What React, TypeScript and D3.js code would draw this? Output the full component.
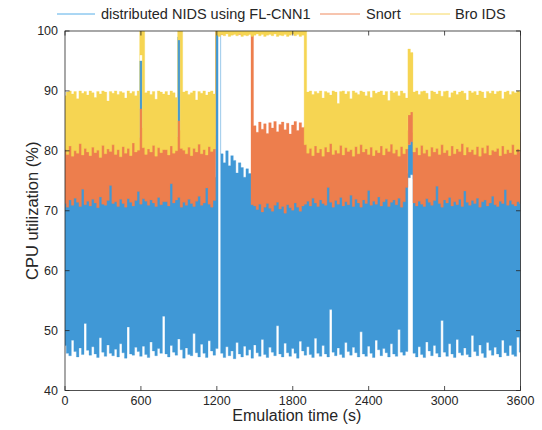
import React from "react";
import * as d3 from "d3";

// sample spacing of the traces (s)
const sampleStep = 20;
const xTicks = [0, 600, 1200, 1800, 2400, 3000, 3600];
const yTicks = [40, 50, 60, 70, 80, 90, 100];
const seriesNames = ["distributed NIDS using FL-CNN1", "Snort", "Bro IDS"];
const seriesColors = ["#4098D6", "#ED7E4D", "#F6D552"];
const legendColors = ["#56AEE8", "#EF8A5E", "#F6D860"];

// envelope (upper / lower) of each CPU trace, one pair per 20 s
const blueHigh = [
  74.8, 75.3, 74.6, 76, 75.1, 74.7, 75.5, 76.2, 74.9, 75.4,
  75, 74.6, 75.6, 74.8, 75.2, 74.5, 75.7, 74.9, 76.5, 75.1,
  74.7, 75.4, 74.9, 75.8, 75, 74.6, 75.3, 74.8, 75.5, 76,
  95, 75, 74.9, 75.6, 75.1, 74.7, 75.4, 75, 75.8, 75.2,
  74.8, 75.3, 76.8, 75.1, 74.6, 99, 75.5, 74.9, 75.2, 75.7,
  75, 74.8, 75.4, 75.9, 74.7, 75.3, 76.4, 75.1, 74.9, 75.6,
  100, 100, 79.5, 78, 80, 77.5, 79.2, 78.4, 76.3, 78,
  77.2, 75.6, 77, 76.2, 76, 74.6, 75.3, 74.8, 75.5, 75,
  74.7, 75.4, 74.9, 75.6, 75.1, 74.8, 75.3, 74.6, 75.2, 74.9,
  75.5, 75, 74.7, 75.4, 75.1, 75.3, 74.8, 75.6, 75, 74.9,
  74.9, 75.7, 75.2, 74.8, 76.3, 75.5, 74.9, 75.4, 75, 75.8,
  75.1, 74.7, 75.4, 75.9, 74.8, 75.5, 75.1, 74.9, 75.6, 75.2,
  76, 74.8, 75.3, 75, 75.7, 74.9, 75.4, 75.6, 75.1, 74.8,
  75.4, 75, 75.7, 74.9, 75.2, 76.2, 81, 81.6, 75.3, 74.9,
  75.5, 75.1, 74.8, 75.6, 75.2, 74.7, 75.4, 76.4, 75, 74.8,
  75.6, 75.2, 75.8, 74.9, 75.3, 75, 75.5, 74.8, 76, 75.4,
  74.9, 75.5, 75.1, 75.7, 74.8, 75.3, 75.6, 74.9, 75.2, 76,
  75, 74.8, 75.4, 75.1, 76.1, 74.9, 75.5, 75.2, 74.8, 75.3,
  75.1,
];
const blueLow = [
  47.5, 46.2, 45.8, 48.4, 46.5, 45.6, 47.1, 46, 51.2, 46.7,
  45.9, 47.3, 46.1, 45.5, 48.8, 46.4, 45.7, 47.6, 46.2, 45.8,
  46.9, 45.6, 47.8, 46.3, 45.4, 50.6, 46.1, 45.9, 47.2, 46.5,
  45.7, 47.4, 46, 45.5, 48.1, 46.6, 45.8, 47, 46.2, 52.4,
  46.1, 45.6, 47.5, 46.4, 45.9, 48.6, 46.8, 45.4, 47.1, 46,
  45.8, 49.5, 46.3, 45.6, 47.7, 46.2, 45.5, 48.3, 46.6, 45.9,
  47, 99.5, 46.2, 45.5, 47.3, 45.8, 46.6, 45.3, 48, 46.1,
  45.6, 47.4, 45.9, 46.8, 45.4, 47.6, 46.3, 45.7, 48.5, 46,
  45.5, 47.2, 46.4, 45.8, 50.8, 46.1, 45.6, 47.9, 46.3, 45.7,
  47, 46.2, 45.4, 48.2, 46.6, 45.9, 47.3, 46, 45.5, 48.7,
  46.2, 45.7, 47.5, 46.1, 45.6, 53.5, 46.4, 45.8, 47.1, 46,
  45.5, 48, 46.5, 45.9, 47.2, 46.3, 45.6, 49.8, 46.1, 45.7,
  47.4, 46.2, 45.5, 48.4, 46.8, 45.8, 47, 46.3, 45.6, 47.8,
  46.1, 45.7, 50.2, 46.4, 45.9, 46.5, 75.5, 76, 46.2, 45.6,
  47.3, 46, 45.5, 48.1, 46.6, 45.8, 47.5, 46.2, 45.6, 51.7,
  46.4, 45.7, 47.8, 46.1, 45.5, 48.5, 46.3, 45.9, 47.1, 46,
  45.6, 49.2, 46.5, 45.8, 47.6, 46.2, 45.5, 48, 46.7, 45.9,
  47.2, 46.1, 45.6, 48.4, 46.3, 45.8, 47.5, 46, 45.7, 48.9,
  46.4,
];
const snortHigh = [
  82.5, 83.1, 82.2, 83.6, 82.8, 82.3, 83.4, 82.6, 83, 82.4,
  83.2, 82.7, 83.5, 82.1, 82.9, 83.3, 82.5, 83.8, 82.4, 83.1,
  82.6, 83, 82.3, 83.4, 82.8, 83.2, 82.5, 83.6, 82.9, 82.2,
  87, 83.8, 82.7, 83.1, 82.4, 83.5, 82.8, 83, 82.6, 83.2,
  83.2, 82.5, 83.7, 82.9, 82.3, 85, 83.4, 82.6, 83.1, 82.8,
  83.5, 82.4, 83, 82.7, 83.6, 82.2, 83.3, 82.9, 83.1, 82.5,
  100, 100, 100, 100, 100, 100, 100, 100, 100, 100,
  100, 100, 100, 100, 100, 84.2, 83.1, 84.8, 83.6, 84.5,
  82.9, 84.7, 83.8, 84.9, 83.2, 84.4, 84.8, 83.5, 84.6, 82.8,
  84.3, 84.9, 83.4, 84.7, 83.9, 84, 82.6, 83.2, 82.4, 83.5,
  82.8, 83.3, 82.5, 83.7, 82.9, 83.1, 82.4, 83.6, 82.7, 83.2,
  82.6, 83.4, 82.9, 83.1, 82.3, 83.5, 82.8, 83.3, 82.5, 83,
  83.4, 82.7, 83.2, 82.6, 83.8, 82.9, 83.1, 82.4, 83.3, 82.8,
  82.7, 83.3, 82.5, 83.1, 82.8, 83.4, 86.5, 87, 83, 82.6,
  83.2, 82.9, 83.5, 82.4, 83, 82.7, 83.6, 82.8, 83.1, 82.5,
  83.3, 82.6, 83.4, 82.9, 83.1, 82.4, 83.7, 82.8, 83.2, 82.7,
  82.9, 83.2, 82.5, 83.5, 82.7, 83.1, 82.6, 83.4, 82.8, 83.3,
  83, 82.6, 83.4, 82.8, 83.2, 82.5, 83.6, 82.9, 83.1, 82.7,
  83,
];
const snortLow = [
  71.2, 70.6, 71.8, 70.9, 72.1, 71.4, 70.7, 73.6, 71, 71.6,
  70.8, 71.9, 71.3, 70.5, 72.3, 71.1, 70.9, 71.7, 74.2, 71.2,
  71.5, 70.7, 71.9, 71.2, 70.6, 72, 71.4, 70.8, 71.7, 73.2,
  71.1, 72, 71.6, 70.9, 71.8, 71.3, 70.7, 72.2, 71, 71.5,
  71.5, 70.8, 74.5, 71.3, 71.8, 72.2, 70.6, 71.4, 70.9, 71.9,
  71.2, 70.7, 71.6, 72.4, 70.9, 71.3, 73.8, 71.1, 70.6, 71.7,
  99.5, 99.6, 99.4, 99.5, 99.6, 99.5, 99.4, 99.6, 99.5, 99.4,
  99.5, 99.6, 99.4, 99.5, 71, 70.8, 70.2, 71.1, 69.8, 70.6,
  71.2, 70.4, 69.9, 70.9, 71.4, 70.3, 70.7, 69.6, 71, 70.5,
  70.1, 71.3, 70.6, 69.9, 70.8, 71.1, 71.6, 70.8, 72.1, 71.3,
  70.7, 71.8, 71.2, 70.9, 73.9, 71.4, 70.6, 71.7, 71.1, 72.2,
  70.8, 71.5, 71, 72.6, 70.7, 71.9, 71.3, 70.6, 71.8, 71.2,
  73.4, 70.9, 71.6, 71.1, 72.3, 70.8, 71.5, 71.9, 70.7, 71.4,
  71.8, 71, 72.1, 70.6, 71.5, 73.9, 81, 81.5, 71.3, 70.8,
  71.6, 71.1, 70.7, 72, 71.4, 70.9, 71.7, 74.1, 71.2, 70.6,
  71.8, 71.3, 72.2, 70.8, 71.5, 71, 71.9, 70.7, 73.3, 71.4,
  70.9, 71.7, 71.2, 72.1, 70.6, 71.5, 71.8, 70.8, 71.3, 72.4,
  71, 70.7, 71.6, 71.2, 73.5, 70.9, 71.7, 71.1, 70.8, 71.5,
  71.2,
];
const broHigh = [
  89.2, 89.8, 90, 89.5, 89.9, 88.7, 90, 89.6, 89.9, 89.3,
  90, 89.7, 88.9, 89.9, 89.5, 90, 89.8, 88.3, 89.9, 89.6,
  90, 89.4, 89.9, 89.7, 88.8, 90, 89.6, 89.9, 89.2, 90,
  100, 100, 89.7, 90, 89.4, 89.9, 88.6, 90, 89.8, 89.5,
  89.9, 89.3, 90, 89.7, 88.9, 100, 100, 89.8, 90, 89.4,
  89.7, 90, 88.5, 89.9, 89.6, 90, 89.3, 89.8, 90, 89.5,
  100, 100, 100, 100, 100, 100, 100, 100, 100, 100,
  100, 100, 100, 100, 100, 100, 100, 100, 100, 100,
  100, 100, 100, 100, 100, 100, 100, 100, 100, 100,
  100, 100, 100, 100, 100, 100, 89.8, 90, 89.4, 89.9,
  89.6, 90, 88.8, 89.9, 89.7, 89.3, 90, 89.8, 87.9, 89.9,
  90, 89.5, 89.9, 88.7, 90, 89.7, 89.4, 90, 89.8, 89.2,
  89.9, 88.9, 90, 89.6, 89.8, 90, 89.3, 89.9, 88.4, 90,
  89.7, 89.9, 89.2, 90, 89.6, 88.8, 97, 96.4, 89.8, 90,
  89.4, 89.9, 90, 89.6, 88.6, 90, 89.8, 89.5, 90, 89.1,
  89.9, 90, 88.9, 89.7, 90, 89.4, 89.8, 90, 89.6, 88.5,
  90, 89.7, 89.9, 89.3, 90, 89.8, 88.8, 89.9, 89.6, 90,
  89.5, 89.9, 90, 88.7, 89.8, 90, 89.4, 89.9, 89.7, 90,
  89.8,
];
const broLow = [
  80.2, 79.4, 80.8, 79.1, 80, 79.6, 81.2, 79.3, 80.4, 79.8,
  79.2, 80.6, 79.7, 80.1, 78.9, 80.9, 79.5, 80.3, 79.9, 81,
  79.4, 80.2, 79, 80.7, 79.6, 80.4, 79.2, 81.3, 79.8, 80.1,
  96, 80.5, 79.4, 80.3, 79.8, 80.9, 79.1, 80.5, 79.7, 80.2,
  80.2, 79.3, 80.8, 79.6, 80, 98.5, 80.4, 80.1, 79.5, 80.6,
  79.2, 80.4, 79.8, 81.1, 79.5, 80.2, 79.3, 80.7, 79.9, 80.3,
  99.3, 99.1, 99.4, 99.2, 99.5, 99.1, 99.3, 99.4, 99.2, 99.5,
  99.1, 99.3, 99.2, 99.4, 99.1, 99.3, 99.5, 99.2, 99.4, 99.1,
  99.3, 99.4, 99.2, 99.5, 99.1, 99.3, 99.2, 99.4, 99.1, 99.3,
  99.5, 99.2, 99.4, 99.1, 99.3, 81, 79.6, 80.4, 79.2, 80.8,
  79.7, 80.3, 79.1, 80.6, 79.8, 81.2, 79.4, 80.1, 79.6, 80.9,
  79.3, 80.5, 79.9, 80.2, 79.1, 80.7, 79.5, 81, 79.8, 80.3,
  79.4, 80.6, 79.2, 80.1, 79.7, 80.8, 79.3, 80.4, 79.9, 81.1,
  79.6, 80.2, 79.1, 80.7, 79.5, 80.3, 86, 86.5, 79.8, 80.5,
  79.3, 80.9, 79.6, 80.2, 79.1, 80.6, 79.8, 80.4, 79.4, 81,
  79.7, 80.1, 79.2, 80.8, 79.5, 80.3, 79.9, 81.2, 79.3, 80.6,
  79.8, 80.2, 79.4, 80.7, 79.1, 80.5, 79.6, 80.9, 79.3, 80.1,
  79.9, 80.4, 79.2, 80.8, 79.5, 80.2, 79.7, 81, 79.4, 80.3,
  79.8,
];

const W = 542;
const H = 430;
const plot = { left: 65, right: 520.5, top: 31, bottom: 390.5 };
const FONT = "'Liberation Sans', Arial, Helvetica, sans-serif";
const AXIS = "#262626";

export default function App() {
  const x = d3.scaleLinear().domain([0, 3600]).range([plot.left, plot.right]);
  const y = d3.scaleLinear().domain([40, 100]).range([plot.bottom, plot.top]);

  const bands = [
    { hi: blueHigh, lo: blueLow, color: seriesColors[0] },
    { hi: snortHigh, lo: snortLow, color: seriesColors[1] },
    { hi: broHigh, lo: broLow, color: seriesColors[2] },
  ];

  const areaFor = (hi: number[], lo: number[]) => {
    const idx = d3.range(hi.length);
    return d3
      .area<number>()
      .x((i) => x(i * sampleStep))
      .y0((i) => y(lo[i]))
      .y1((i) => y(hi[i]))
      .curve(d3.curveStep)(idx) as string;
  };

  const tickLen = 4.5;
  const legendItems = [
    { x1: 57, x2: 95, tx: 101 },
    { x1: 320, x2: 360, tx: 366 },
    { x1: 410, x2: 450, tx: 455 },
  ];

  return (
    <svg
      width={W}
      height={H}
      style={{ position: "absolute", left: 0, top: 0, background: "#fff" }}
      fontFamily={FONT}
    >
      <rect x={0} y={0} width={W} height={H} fill="#fff" />
      <defs>
        <clipPath id="plotclip">
          <rect x={plot.left} y={plot.top} width={plot.right - plot.left} height={plot.bottom - plot.top} />
        </clipPath>
      </defs>
      <g clipPath="url(#plotclip)">
        {bands.map((b, k) => (
          <path key={k} d={areaFor(b.hi, b.lo)} fill={b.color} stroke={b.color} strokeWidth={0.3} />
        ))}
      </g>

      {/* axes box */}
      <rect
        x={plot.left}
        y={plot.top}
        width={plot.right - plot.left}
        height={plot.bottom - plot.top}
        fill="none"
        stroke={AXIS}
        strokeWidth={0.8}
      />
      {xTicks.map((t) => (
        <g key={"xt" + t}>
          <line x1={x(t)} x2={x(t)} y1={plot.bottom} y2={plot.bottom - tickLen} stroke={AXIS} strokeWidth={0.8} />
          <line x1={x(t)} x2={x(t)} y1={plot.top} y2={plot.top + tickLen} stroke={AXIS} strokeWidth={0.8} />
          <text x={x(t)} y={405} textAnchor="middle" fontSize={12.5} fill={AXIS}>
            {t}
          </text>
        </g>
      ))}
      {yTicks.map((v) => (
        <g key={"yt" + v}>
          <line x1={plot.left} x2={plot.left + tickLen} y1={y(v)} y2={y(v)} stroke={AXIS} strokeWidth={0.8} />
          <line x1={plot.right} x2={plot.right - tickLen} y1={y(v)} y2={y(v)} stroke={AXIS} strokeWidth={0.8} />
          <text x={58} y={y(v) + 4.3} textAnchor="end" fontSize={12.5} fill={AXIS}>
            {v}
          </text>
        </g>
      ))}

      <text x={(plot.left + plot.right) / 2 + 4} y={421} textAnchor="middle" fontSize={16} fill={AXIS}>
        Emulation time (s)
      </text>
      <text
        transform={`translate(38, ${(plot.top + plot.bottom) / 2}) rotate(-90)`}
        textAnchor="middle"
        fontSize={16.5}
        fill={AXIS}
      >
        CPU utilization (%)
      </text>

      {/* legend */}
      {legendItems.map((l, k) => (
        <g key={"lg" + k}>
          <line x1={l.x1} x2={l.x2} y1={14} y2={14} stroke={legendColors[k]} strokeWidth={1} />
          <text x={l.tx} y={19} fontSize={14.5} fill={AXIS}>
            {seriesNames[k]}
          </text>
        </g>
      ))}
    </svg>
  );
}
